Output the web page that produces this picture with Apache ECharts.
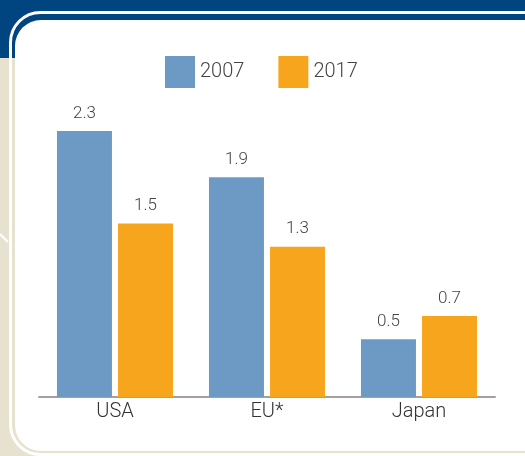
<!DOCTYPE html>
<html>
<head>
<meta charset="utf-8">
<script src="https://cdn.jsdelivr.net/npm/echarts@6/dist/echarts.min.js"></script>
<style>
  html, body { margin: 0; padding: 0; }
  #chart { width: 525px; height: 456px; }
</style>
</head>
<body>
<div id="chart"></div>
<script>
const categories = ['USA', 'EU*', 'Japan']
const seriesNames = ['2007', '2017']
const values2007 = [2.3, 1.9, 0.5]
const values2017 = [1.5, 1.3, 0.7]

const chart = echarts.init(document.getElementById('chart'))

const option = {
  backgroundColor: '#e7e1d0',
  textStyle: { fontFamily: 'Roboto' },
  graphic: [
    // blue band at the top
    { type: 'rect', z: -10, shape: { x: 0, y: 0, width: 525, height: 58 }, style: { fill: '#00457f' } },
    // small white diagonal on the left
    { type: 'line', z: -10, shape: { x1: 0, y1: 234, x2: 8, y2: 242 }, style: { stroke: '#ffffff', lineWidth: 2 } },
    // outer white ring
    { type: 'rect', z: -9, shape: { x: 10.5, y: 12.5, width: 560, height: 442, r: 30 }, style: { fill: 'none', stroke: '#ffffff', lineWidth: 3 } },
    // white panel
    { type: 'rect', z: -8, shape: { x: 15, y: 20, width: 550, height: 431, r: 26 }, style: { fill: '#ffffff' } }
  ],
  legend: {
    left: 165,
    top: 56,
    padding: 0,
    itemWidth: 30,
    itemHeight: 32,
    itemGap: 34,
    icon: 'rect',
    data: seriesNames,
    textStyle: { fontSize: 20, color: '#444444', fontFamily: 'Roboto', fontWeight: 300 }
  },
  grid: { left: 39, right: 30, top: 108, bottom: 59 },
  xAxis: {
    type: 'category',
    data: categories,
    axisLine: { lineStyle: { color: '#a59f9e', width: 2 } },
    axisTick: { show: false },
    axisLabel: { fontSize: 20, color: '#333333', margin: 5, fontFamily: 'Roboto', fontWeight: 300 }
  },
  yAxis: {
    type: 'value',
    min: 0,
    max: 2.5,
    show: false
  },
  series: [
    {
      name: '2007',
      type: 'bar',
      data: values2007,
      barWidth: 55,
      barGap: '11%',
      itemStyle: { color: '#6c9ac4' },
      label: { show: true, position: 'top', distance: 9, fontSize: 17, color: '#444444', fontFamily: 'Roboto', fontWeight: 300 }
    },
    {
      name: '2017',
      type: 'bar',
      data: values2017,
      barWidth: 55,
      barGap: '11%',
      itemStyle: { color: '#f8a51e' },
      label: { show: true, position: 'top', distance: 9, fontSize: 17, color: '#444444', fontFamily: 'Roboto', fontWeight: 300 }
    }
  ]
}

chart.setOption(option)
</script>
</body>
</html>
